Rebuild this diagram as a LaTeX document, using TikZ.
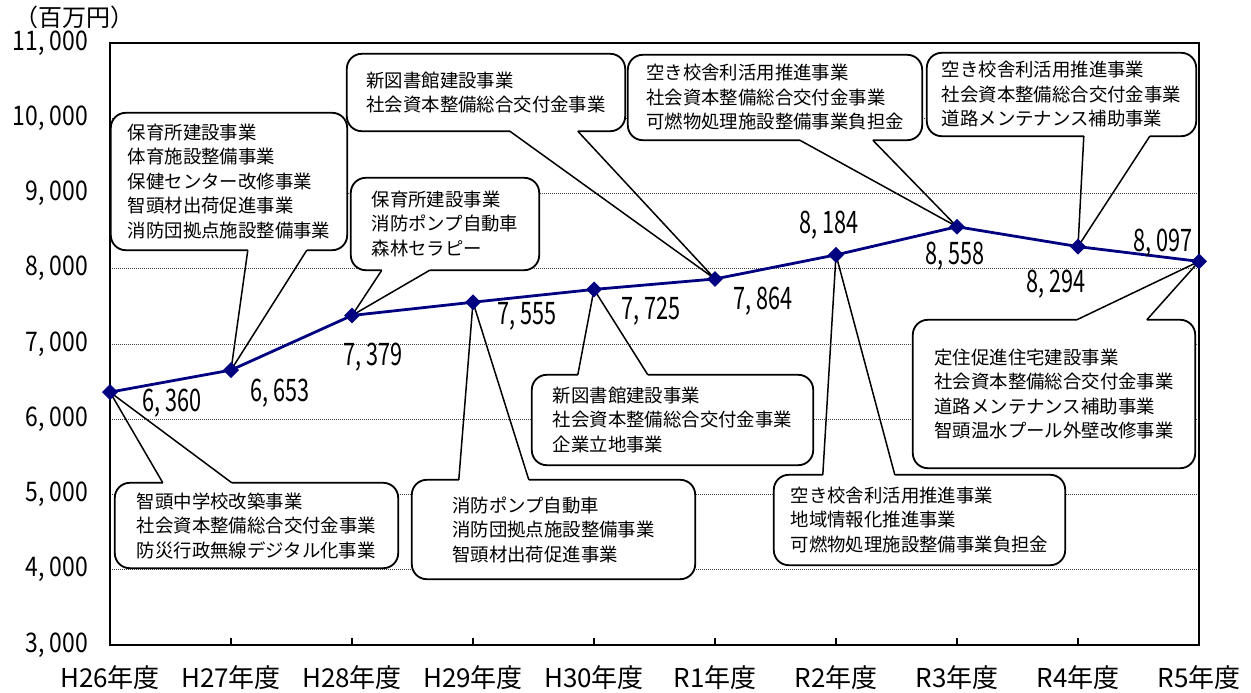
\documentclass[tikz,border=0pt]{standalone}
\usepackage{fontspec}
\setmainfont{Noto Sans CJK JP}
\newfontfamily\valfont[FakeStretch=0.7]{Noto Sans CJK JP}
\newfontfamily\axisfont[FakeStretch=0.85]{Noto Sans CJK JP}
\usetikzlibrary{shapes.geometric,calc}
\definecolor{navy}{RGB}{0,0,128}

\begin{document}
\begin{tikzpicture}[x=1pt,y=-1pt,
  callout/.style={fill=white,rounded corners=15pt,align=left,inner sep=0pt,
    font=\fontsize{18.4}{24.5}\selectfont},
  call line/.style={draw=black,line width=1.8pt,line join=round},
  wedge line/.style={draw=black,line width=1.5pt},
  grid line/.style={draw=black!75,line width=1pt,dash pattern=on 1pt off 1pt},
  plot frame/.style={draw=black,line width=2.6pt},
  data line/.style={draw=navy,line width=2.8pt},
  point mark/.style={diamond,fill=navy,inner sep=0pt,minimum size=16pt},
  val label/.style={font=\valfont\fontsize{31}{31}\selectfont},
  axis label/.style={anchor=east,inner sep=1pt,font=\axisfont\fontsize{27}{27}\selectfont},
  year label/.style={font=\fontsize{26}{26}\selectfont}]

  \useasboundingbox (0,0) rectangle (1251,693);

  % grid
  \foreach \y in {4,...,10}
    \draw[grid line] (110,{645-75.25*(\y-3)}) -- (1199,{645-75.25*(\y-3)});

  % data points
  \foreach \v [count=\i from 0] in {6360,6653,7379,7555,7725,7864,8184,8558,8294,8097}
    \coordinate (p\i) at ({110+121*\i},{645-0.07525*(\v-3000)});

  % callouts
  \node[callout,minimum width=283pt,minimum height=85pt] (k0) at (256.5,525.5)
    {智頭中学校改築事業\\社会資本整備総合交付金事業\\防災行政無線デジタル化事業};
  \node[callout,minimum width=236pt,minimum height=137pt] (k1) at (229,181.5)
    {保育所建設事業\\体育施設整備事業\\保健センター改修事業\\智頭材出荷促進事業\\消防団拠点施設整備事業};
  \node[callout,minimum width=188pt,minimum height=92pt] (k2) at (445,224)
    {保育所建設事業\\消防ポンプ自動車\\森林セラピー};
  \node[callout,minimum width=283pt,minimum height=99pt] (k3) at (553.5,529.5)
    {消防ポンプ自動車\\消防団拠点施設整備事業\\智頭材出荷促進事業};
  \node[callout,minimum width=281pt,minimum height=90pt] (k4) at (672.5,420)
    {新図書館建設事業\\社会資本整備総合交付金事業\\企業立地事業};
  \node[callout,minimum width=278pt,minimum height=77pt] (k5) at (486,92.5)
    {新図書館建設事業\\社会資本整備総合交付金事業};
  \node[callout,minimum width=291pt,minimum height=90pt] (k6) at (919.5,520)
    {空き校舎利活用推進事業\\地域情報化推進事業\\可燃物処理施設整備事業負担金};
  \node[callout,minimum width=294pt,minimum height=85pt] (k7) at (775,97.5)
    {空き校舎利活用推進事業\\社会資本整備総合交付金事業\\可燃物処理施設整備事業負担金};
  \node[callout,minimum width=269pt,minimum height=83pt] (k8) at (1061.5,94.5)
    {空き校舎利活用推進事業\\社会資本整備総合交付金事業\\道路メンテナンス補助事業};
  \node[callout,minimum width=282pt,minimum height=148pt] (k9) at (1054,394)
    {定住促進住宅建設事業\\社会資本整備総合交付金事業\\道路メンテナンス補助事業\\智頭温水プール外壁改修事業};

  % outlines, open where the wedge leaves the box
  \foreach \k/\s/\o/\a/\b/\p in {k0/north/south/48/117/p0, k1/south/north/137/196/p1,
      k2/south/north/31/79/p2, k3/north/south/47/117/p3, k4/north/south/46/116/p4,
      k5/south/north/163/231/p5, k6/north/south/49/121/p6, k7/south/north/172/245/p7,
      k8/south/north/157/223/p8, k9/north/south/164/234/p9}{
    \draw[call line,rounded corners=15pt] ($(\k.\s -| \k.west)+(\b,0)$) -- (\k.\s -| \k.east)
      -- (\k.\o -| \k.east) -- (\k.\o -| \k.west) -- (\k.\s -| \k.west) -- ($(\k.\s -| \k.west)+(\a,0)$);
    \draw[wedge line] ($(\k.\s -| \k.west)+(\a,0)$) -- (\p) -- ($(\k.\s -| \k.west)+(\b,0)$);
  }

  % axes
  \draw[plot frame] (110,43) rectangle (1199,645);
  \foreach \i in {1,...,8}
    \draw[line width=1.2pt] ({110+121*\i},645) -- ++(0,-7);

  % line and marks
  \draw[data line] (p0) \foreach \i in {1,...,9}{ -- (p\i)};
  \foreach \i in {0,...,9}
    \node[point mark] (m\i) at (p\i) {};

  % values
  \node[val label] (v0) at (172,403) {6, 360};
  \node[val label] (v1) at (280,393) {6, 653};
  \node[val label] (v2) at (373,357) {7, 379};
  \node[val label] (v3) at (527,316) {7, 555};
  \node[val label] (v4) at (651,311) {7, 725};
  \node[val label] (v5) at (763,301) {7, 864};
  \node[val label] (v6) at (829,225) {8, 184};
  \node[val label] (v7) at (955,256) {8, 558};
  \node[val label] (v8) at (1056,284) {8, 294};
  \node[val label] (v9) at (1163,243) {8, 097};

  % axis labels
  \foreach \y in {3,...,11}
    \node[axis label] (y\y) at (89,{645-75.25*(\y-3)}) {\y, 000};
  \foreach \t [count=\i from 0] in {H26,H27,H28,H29,H30,R1,R2,R3,R4,R5}
    \node[year label] (x\i) at ({110+121*\i},678) {\t 年度};
  \node[font=\fontsize{24}{24}\selectfont,inner sep=0pt] (unit) at (75,17) {（百万円）};
\end{tikzpicture}
\end{document}
